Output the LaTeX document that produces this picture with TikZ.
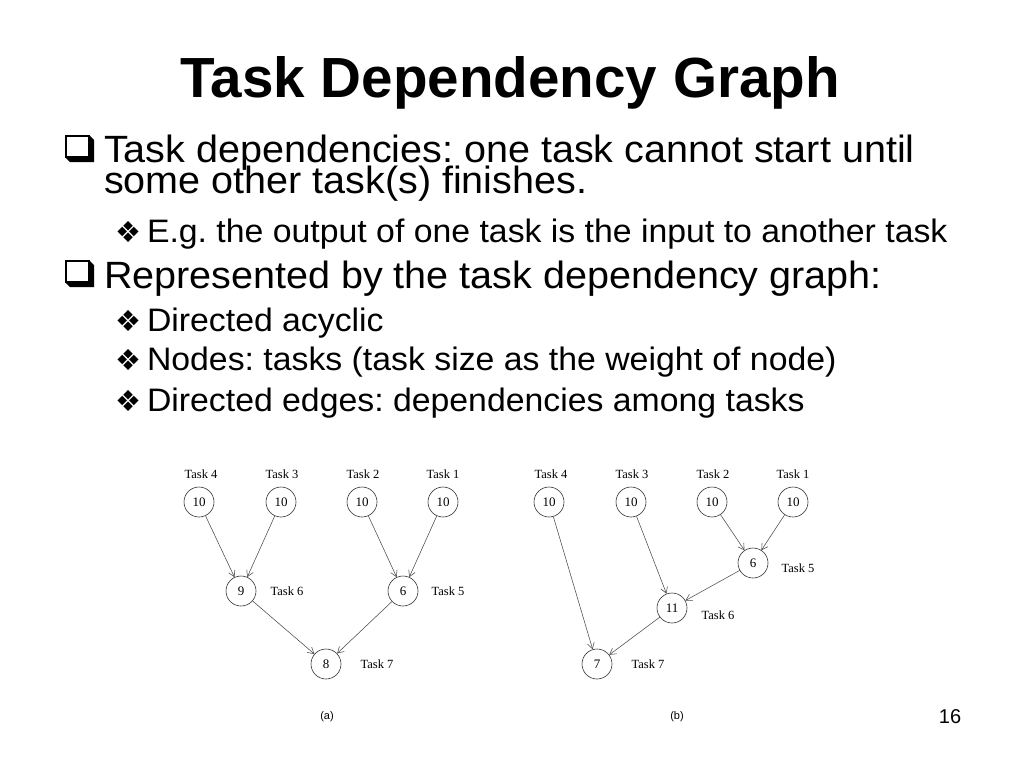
\documentclass[tikz,border=0pt]{standalone}
\usepackage{fontspec}
\setmainfont{Liberation Sans}
\newfontfamily\widesans[FakeStretch=1.04]{Liberation Sans}
\newfontfamily\serifnode{Liberation Serif}
\newfontfamily\dingfont{DejaVu Sans}
\usetikzlibrary{arrows.meta}
\frenchspacing
\begin{document}
\begin{tikzpicture}[x=1pt,y=-1pt,
  txt/.style={anchor=base west,inner sep=0pt,outer sep=0pt},
  mainline/.style={txt,font=\widesans\fontsize{38}{40}\selectfont},
  subline/.style={txt,font=\widesans\fontsize{32.5}{34}\selectfont},
  dmbullet/.style={txt,font=\dingfont\fontsize{29}{30}\selectfont},
  task/.style={draw=black!80,circle,minimum size=30pt,inner sep=0pt,line width=0.6pt,font=\serifnode\fontsize{13}{14}\selectfont},
  tlabel/.style={inner sep=0pt,font=\serifnode\fontsize{12.5}{14}\selectfont},
  dep/.style={draw=black!70,line width=0.55pt,-{Straight Barb[length=6pt,width=7pt]}},
  capt/.style={inner sep=0pt,font=\fontsize{11}{12}\selectfont},
  sqshadow/.style={fill=black},
  sqface/.style={fill=white,draw=black,line width=2pt}
]
\fill[white] (0,0) rectangle (1024,768);
\useasboundingbox (0,0) rectangle (1024,768);

% title
\node[txt,anchor=base,font=\bfseries\fontsize{56.6}{60}\selectfont] (title) at (510,97) {Task Dependency Graph};

% square bullets (shadowed)
\fill[sqshadow] (66,136) -- (90,136) -- (94,140) -- (94,162) -- (70,162) -- (66,158) -- cycle;
\filldraw[sqface] (66,136) rectangle (89,157);
\fill[sqshadow] (66,261) -- (90,261) -- (94,265) -- (94,287) -- (70,287) -- (66,283) -- cycle;
\filldraw[sqface] (66,261) rectangle (89,282);

% text lines
\node[mainline] (l1) at (104,162) {Task dependencies: one task cannot start until};
\node[mainline] (l2) at (104,193) {some other task(s) finishes.};
\node[dmbullet] (d1) at (115,242) {❖};
\node[subline] (l3) at (147,242) {E.g. the output of one task is the input to another task};
\node[mainline] (l4) at (104,288) {Represented by the task dependency graph:};
\node[dmbullet] (d2) at (115,331) {❖};
\node[subline] (l5) at (147,331) {Directed acyclic};
\node[dmbullet] (d3) at (115,370) {❖};
\node[subline] (l6) at (147,370) {Nodes: tasks (task size as the weight of node)};
\node[dmbullet] (d4) at (115,411) {❖};
\node[subline] (l7) at (147,411) {Directed edges: dependencies among tasks};

% graph (a)
\node[tlabel] (aT4) at (201,474) {Task 4};
\node[tlabel] (aT3) at (282,474) {Task 3};
\node[tlabel] (aT2) at (363,474) {Task 2};
\node[tlabel] (aT1) at (443,474) {Task 1};
\node[task] (a4) at (199,502) {10};
\node[task] (a3) at (281,502) {10};
\node[task] (a2) at (362,502) {10};
\node[task] (a1) at (443,502) {10};
\node[task] (a6) at (241,591) {9};
\node[tlabel] (aT6) at (287,591) {Task 6};
\node[task] (a5) at (403,591) {6};
\node[tlabel] (aT5) at (448,591) {Task 5};
\node[task] (a7) at (326,664) {8};
\node[tlabel] (aT7) at (377,664) {Task 7};
\draw[dep] (a4) -- (a6);
\draw[dep] (a3) -- (a6);
\draw[dep] (a2) -- (a5);
\draw[dep] (a1) -- (a5);
\draw[dep] (a6) -- (a7);
\draw[dep] (a5) -- (a7);
\node[capt] (capa) at (327,717) {(a)};

% graph (b)
\node[tlabel] (bT4) at (551,474) {Task 4};
\node[tlabel] (bT3) at (632,474) {Task 3};
\node[tlabel] (bT2) at (713,474) {Task 2};
\node[tlabel] (bT1) at (793,474) {Task 1};
\node[task] (b4) at (549,502) {10};
\node[task] (b3) at (631,502) {10};
\node[task] (b2) at (712,502) {10};
\node[task] (b1) at (793,502) {10};
\node[task] (b5) at (753,563) {6};
\node[tlabel] (bT5) at (798,568) {Task 5};
\node[task] (b6) at (672,608) {11};
\node[tlabel] (bT6) at (718,615) {Task 6};
\node[task] (b7) at (597,664) {7};
\node[tlabel] (bT7) at (648,664) {Task 7};
\draw[dep] (b4) -- (b7);
\draw[dep] (b3) -- (b6);
\draw[dep] (b2) -- (b5);
\draw[dep] (b1) -- (b5);
\draw[dep] (b5) -- (b6);
\draw[dep] (b6) -- (b7);
\node[capt] (capb) at (677,717) {(b)};

\node[inner sep=0pt,font=\fontsize{20}{22}\selectfont] (pg) at (950,717) {16};
\end{tikzpicture}
\end{document}
